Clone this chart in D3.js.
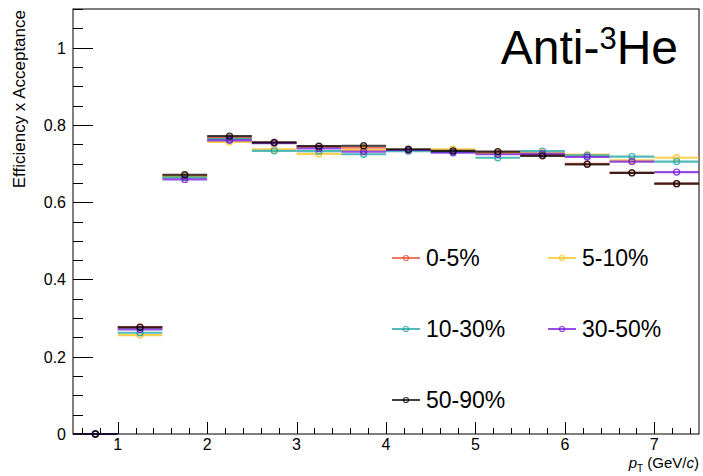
<!DOCTYPE html>
<html><head><meta charset="utf-8">
<script src="https://cdn.jsdelivr.net/npm/d3@7"></script>
<style>body{margin:0;background:#fff;} svg{display:block;font-family:"Liberation Sans",Arial,sans-serif;}</style>
</head><body><svg id="c" width="703" height="476"></svg>
<script>
const binCenters = [0.75,1.25,1.75,2.25,2.75,3.25,3.75,4.25,4.75,5.25,5.75,6.25,6.75,7.25];
const binHalfWidth = 0.25;
const cent0_5   = [0, 0.277, 0.668, 0.767, 0.754, 0.744, 0.741, 0.735, 0.732, 0.729, 0.722, 0.699, 0.676, 0.648];
const cent5_10  = [0, 0.256, 0.666, 0.756, 0.737, 0.725, 0.735, 0.736, 0.737, 0.727, 0.728, 0.723, 0.708, 0.715];
const cent10_30 = [0, 0.262, 0.664, 0.763, 0.733, 0.732, 0.724, 0.732, 0.730, 0.715, 0.732, 0.721, 0.718, 0.705];
const cent30_50 = [0, 0.271, 0.659, 0.760, 0.753, 0.739, 0.731, 0.735, 0.728, 0.724, 0.725, 0.717, 0.705, 0.678];
const cent50_90 = [0, 0.276, 0.671, 0.771, 0.755, 0.745, 0.746, 0.737, 0.733, 0.731, 0.720, 0.698, 0.676, 0.648];
const seriesNames = ["0-5%","5-10%","10-30%","30-50%","50-90%"];
const seriesColors = ["#ee4a2c","#ffc21a","#1aa3a3","#7212dc","#000000"];
const seriesValues = [cent0_5, cent5_10, cent10_30, cent30_50, cent50_90];
const xTicks = [1,2,3,4,5,6,7];
const yTicks = [0,0.2,0.4,0.6,0.8,1];

const svg = d3.select("#c");
const L=73, R=699, T=9, B=434;
const x = d3.scaleLinear().domain([0.5,7.5]).range([L,R]);
const y = d3.scaleLinear().domain([0,1.1]).range([B,T]);

// frame
svg.append("rect").attr("x",L).attr("y",T).attr("width",R-L).attr("height",B-T)
  .attr("fill","none").attr("stroke","#000").attr("stroke-width",1);

// y axis ticks (inside)
const yMinor = d3.range(0,1.1001,0.05);
svg.selectAll(".ymin").data(yMinor).enter().append("line")
  .attr("x1",L).attr("x2",d=>L+(Math.abs(d*5-Math.round(d*5))<1e-6?20:10))
  .attr("y1",d=>Math.round(y(d))+0.5).attr("y2",d=>Math.round(y(d))+0.5)
  .attr("stroke","#000").attr("stroke-width",1);
svg.selectAll(".ylab").data(yTicks).enter().append("text")
  .attr("x",L-7).attr("y",d=>y(d)+6).attr("text-anchor","end")
  .attr("font-size",16).text(d=>d3.format("~g")(d));

// x axis ticks
const xMinor = d3.range(0.6,7.5,0.2);
svg.selectAll(".xmin").data(xMinor).enter().append("line")
  .attr("x1",d=>Math.round(x(d))+0.5).attr("x2",d=>Math.round(x(d))+0.5)
  .attr("y1",B).attr("y2",d=>B-(Math.abs(d-Math.round(d))<1e-6?12:6))
  .attr("stroke","#000").attr("stroke-width",1);
svg.selectAll(".xlab").data(xTicks).enter().append("text")
  .attr("x",d=>x(d)).attr("y",B+16).attr("text-anchor","middle")
  .attr("font-size",16).text(d=>d);

// axis titles
svg.append("text").attr("transform",`translate(25,${T+1}) rotate(-90)`)
  .attr("text-anchor","end").attr("font-size",17).text("Efficiency x Acceptance");
const xt = svg.append("text").attr("x",R).attr("y",468).attr("text-anchor","end").attr("font-size",15);
xt.append("tspan").attr("font-style","italic").text("p");
xt.append("tspan").attr("font-size",10).attr("dy",4).text("T");
xt.append("tspan").attr("dy",-4).text(" (GeV/");
xt.append("tspan").attr("font-style","italic").text("c");
xt.append("tspan").text(")");

// data
seriesValues.forEach((vals,si)=>{
  const g = svg.append("g");
  const pts = binCenters.map((c,i)=>({c,v:vals[i]}));
  g.selectAll("line").data(pts).enter().append("line")
    .attr("x1",d=>x(d.c-binHalfWidth)).attr("x2",d=>x(d.c+binHalfWidth))
    .attr("y1",d=>y(d.v)).attr("y2",d=>y(d.v))
    .attr("stroke",seriesColors[si]).attr("stroke-width",2.2).attr("stroke-opacity",0.75);
  g.selectAll("circle").data(pts).enter().append("circle")
    .attr("cx",d=>x(d.c)).attr("cy",d=>y(d.v)).attr("r",3)
    .attr("fill","none").attr("stroke",seriesColors[si]).attr("stroke-width",1.3).attr("stroke-opacity",0.8);
});

// legend
const legPos = [[392,258],[548,258],[392,329],[548,329],[392,400]];
seriesNames.forEach((n,i)=>{
  const [lx,ly]=legPos[i];
  svg.append("line").attr("x1",lx).attr("x2",lx+28).attr("y1",ly).attr("y2",ly)
    .attr("stroke",seriesColors[i]).attr("stroke-width",1.5);
  svg.append("circle").attr("cx",lx+14).attr("cy",ly).attr("r",2.5)
    .attr("fill","none").attr("stroke",seriesColors[i]).attr("stroke-width",1.2).attr("stroke-opacity",0.8);
  svg.append("text").attr("x",lx+34).attr("y",ly+8).attr("font-size",23).text(n);
});

// title
const tt = svg.append("text").attr("x",678).attr("y",64).attr("text-anchor","end").attr("font-size",48);
tt.append("tspan").text("Anti-");
tt.append("tspan").attr("font-size",31).attr("dy",-15).text("3");
tt.append("tspan").attr("dy",15).text("He");
</script></body></html>
